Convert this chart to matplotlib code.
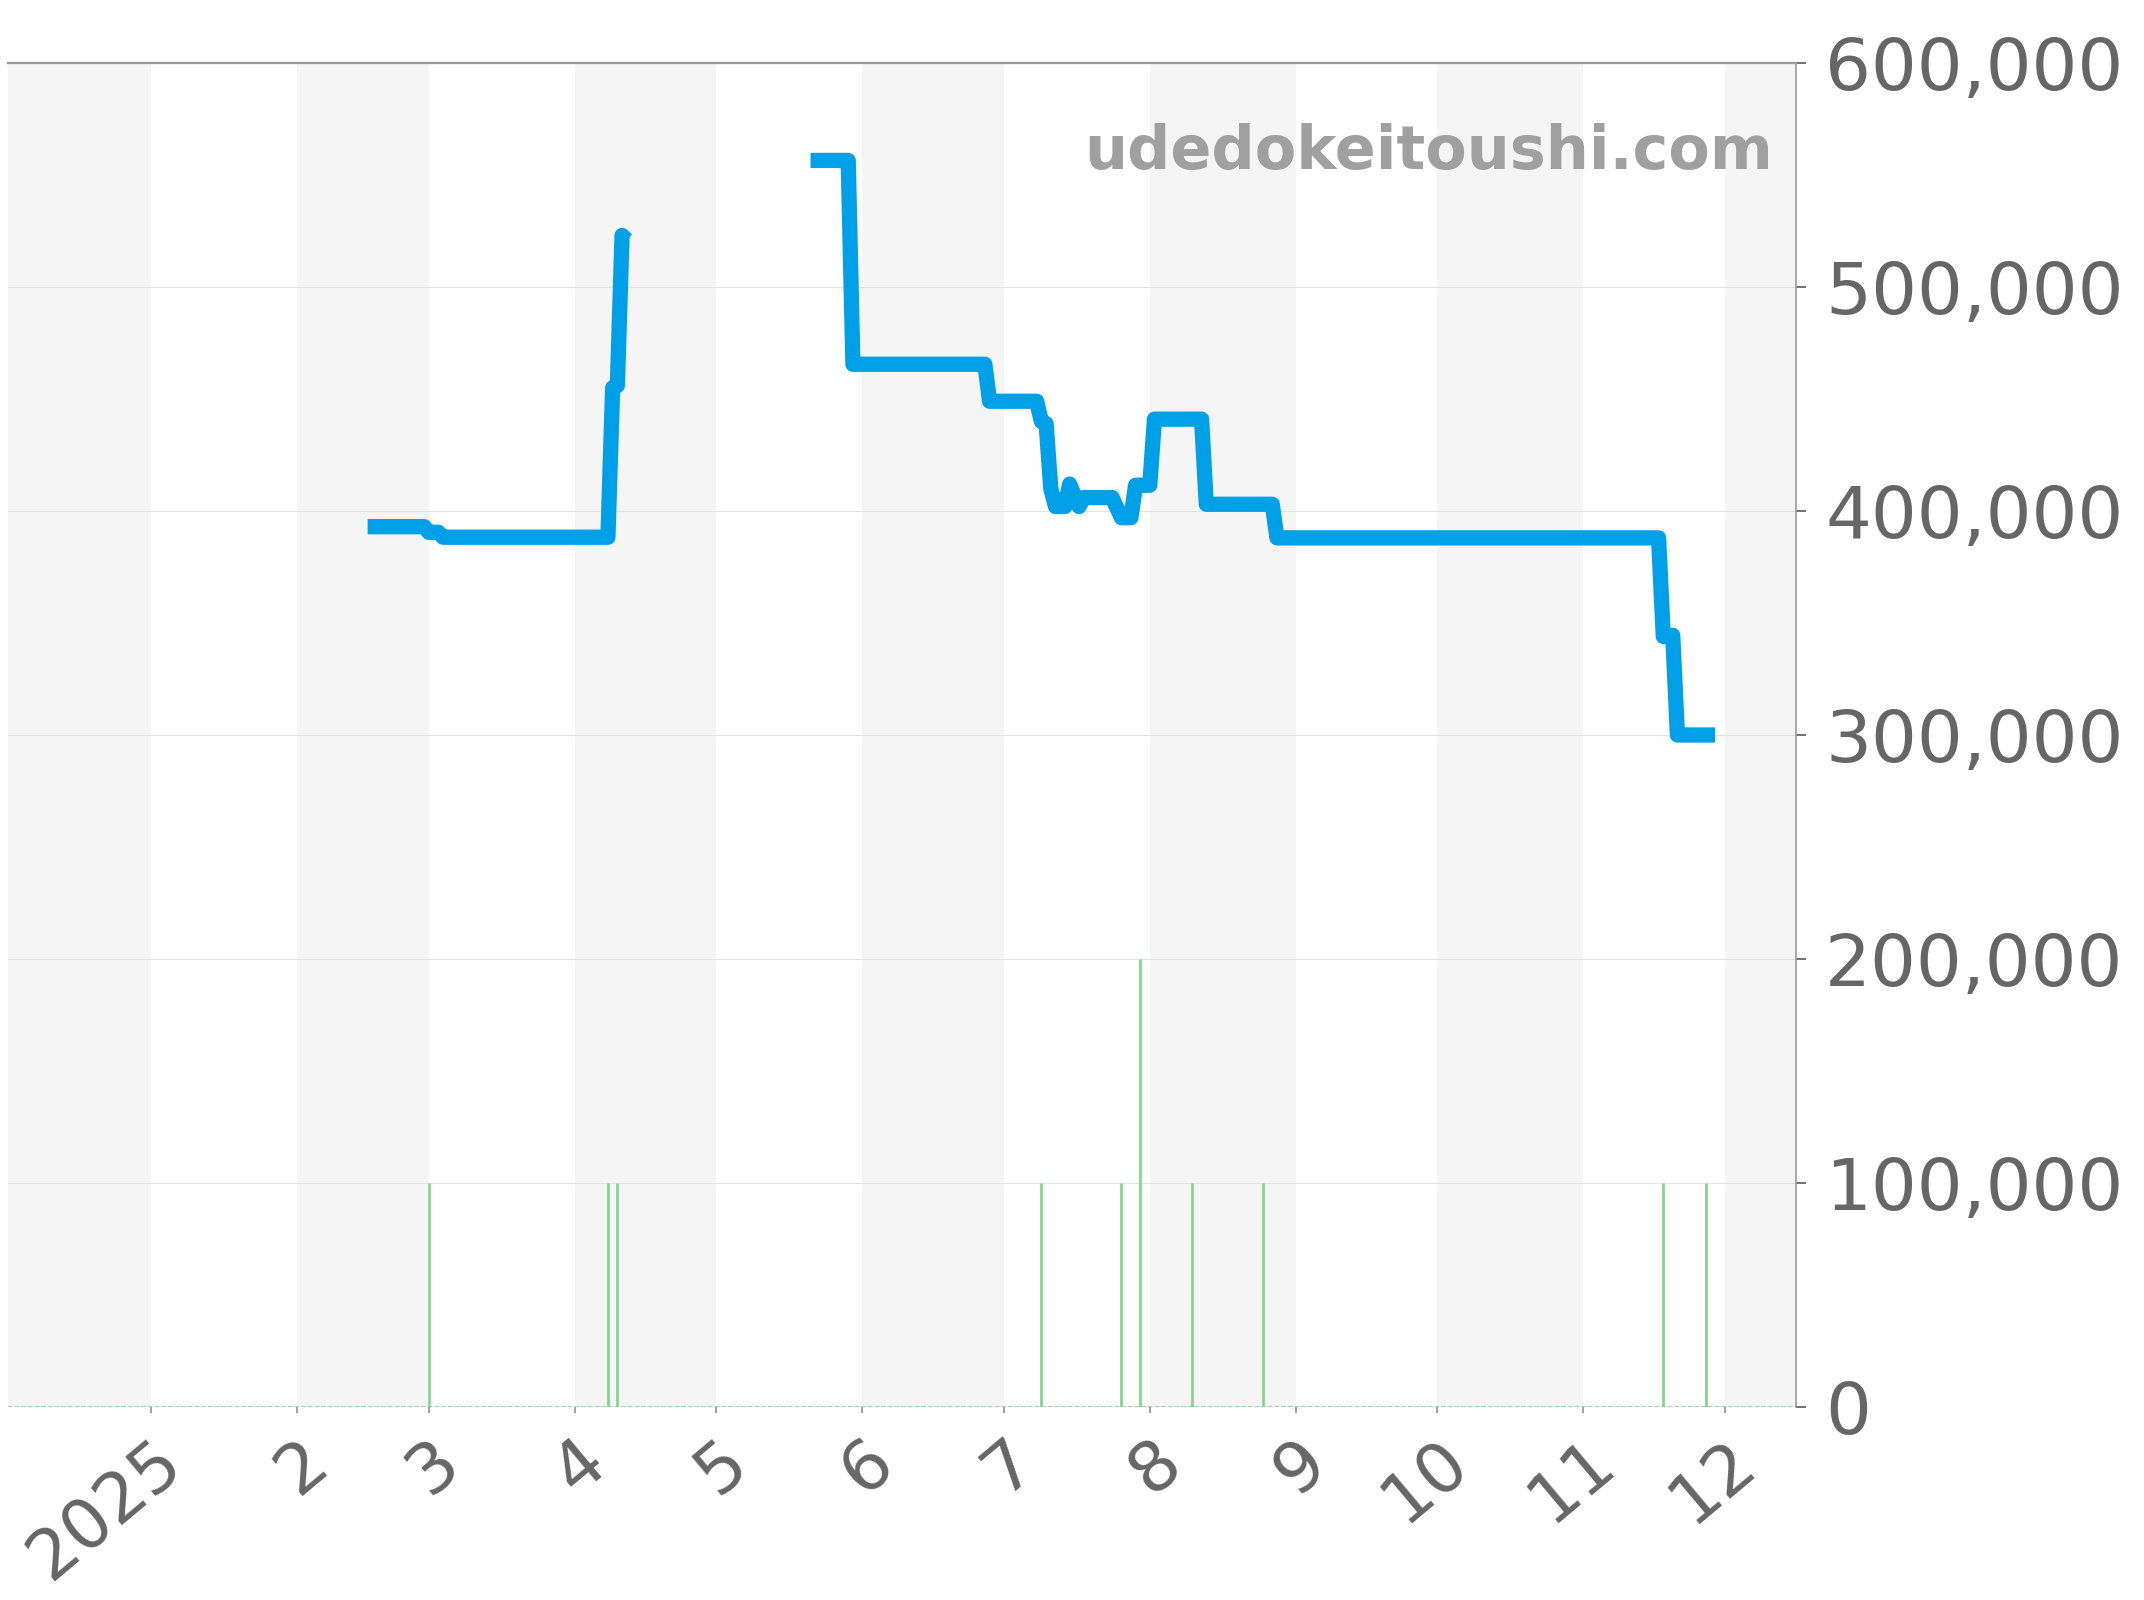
import numpy as np
import pandas as pd
import matplotlib
matplotlib.use('Agg')
import matplotlib.pyplot as plt
import matplotlib.transforms as mtransforms
from matplotlib.ticker import FuncFormatter

# 価格推移（NaN で線を途切れさせる）
price_dates = ['2025-02-16', '2025-02-28', '2025-03-01', '2025-03-03', '2025-03-04',
               '2025-04-08', '2025-04-09', '2025-04-10', '2025-04-11', '2025-04-12',
               '2025-04-13',
               '2025-05-21', '2025-05-29', '2025-05-30', '2025-06-27', '2025-06-28',
               '2025-07-08', '2025-07-09', '2025-07-10', '2025-07-11', '2025-07-12',
               '2025-07-14', '2025-07-15', '2025-07-17', '2025-07-18', '2025-07-24',
               '2025-07-26', '2025-07-28', '2025-07-29', '2025-08-01', '2025-08-02',
               '2025-08-12', '2025-08-13', '2025-08-27', '2025-08-28', '2025-11-17',
               '2025-11-18', '2025-11-20', '2025-11-21', '2025-11-29']
prices = [393000, 393000, 390500, 390500, 388300,
          388300, 455000, 456000, 523000, 521000,
          np.nan,
          556500, 556500, 465500, 465500, 449000,
          449000, 440000, 439000, 410000, 402000,
          402000, 412000, 402000, 406000, 406000,
          397000, 397000, 411500, 411500, 441000,
          441000, 403000, 403000, 388000, 388000,
          344000, 344500, 300000, 300000]

# 出来高っぽい縦線
vol_dates = ['2025-03-01', '2025-04-08', '2025-04-10', '2025-07-09', '2025-07-26',
             '2025-07-30', '2025-08-10', '2025-08-25', '2025-11-18', '2025-11-27']
vol_values = [100000, 100000, 100000, 100000, 100000,
              200000, 100000, 100000, 100000, 100000]

month_starts = ['2025-01-01', '2025-02-01', '2025-03-01', '2025-04-01', '2025-05-01',
                '2025-06-01', '2025-07-01', '2025-08-01', '2025-09-01', '2025-10-01',
                '2025-11-01', '2025-12-01']
month_labels = ['2025', '2', '3', '4', '5', '6', '7', '8', '9', '10', '11', '12']

x_start = pd.Timestamp('2024-12-01 16:00')
x_end = pd.Timestamp('2025-12-16 04:00')

price_x = pd.to_datetime(price_dates)
vol_x = pd.to_datetime(vol_dates)
ticks_x = pd.to_datetime(month_starts)

fig = plt.figure(figsize=(21.44, 16), dpi=100)
ax = fig.add_axes([8 / 2144, 1 - 1407 / 1600, (1796 - 8) / 2144, (1407 - 63) / 1600])

# 月ごとの縞
band_edges = [x_start] + list(ticks_x) + [x_end]
for i in range(len(band_edges) - 1):
    if i % 2 == 0:
        ax.axvspan(band_edges[i], band_edges[i + 1], color='#f5f5f5', lw=0, zorder=0)

ax.axhline(0, color='#9ed8a8', lw=1.6, ls=(0, (2, 1)), zorder=1)
ax.vlines(vol_x, 0, vol_values, color='#86d495', lw=2.0, zorder=2)
ax.plot(price_x, prices, color='#00a0e9', lw=11, solid_joinstyle='round',
        solid_capstyle='butt', zorder=3)

ax.set_xlim(x_start, x_end)
ax.set_ylim(0, 600000)
ax.set_yticks(np.arange(0, 600001, 100000))
ax.yaxis.set_major_formatter(FuncFormatter(lambda v, p: '{:,.0f}'.format(v)))
ax.yaxis.tick_right()
ax.grid(axis='y', color='#e3e3e3', lw=0.8, zorder=0.5)
ax.set_axisbelow(True)

ax.set_xticks(ticks_x)
ax.set_xticklabels(month_labels)

ax.tick_params(axis='y', labelsize=52, colors='#666666', length=7, width=1.3, pad=14,
               labelcolor='#666666')
ax.tick_params(axis='x', labelsize=50, colors='#999999', length=4, width=1.3, pad=29,
               labelcolor='#666666')

# ラベルを少し右へずらす
shift = mtransforms.ScaledTranslation(0.22, 0, fig.dpi_scale_trans)
for lab in ax.get_xticklabels():
    lab.set_rotation(40)
    lab.set_ha('right')
    lab.set_va('center')
    lab.set_rotation_mode('anchor')
    lab.set_transform(lab.get_transform() + shift)

for s in ['left', 'bottom']:
    ax.spines[s].set_visible(False)
ax.spines['top'].set_color('#999999')
ax.spines['top'].set_linewidth(1.6)
ax.spines['right'].set_color('#999999')
ax.spines['right'].set_linewidth(1.2)

ax.text(0.987, 0.921, 'udedokeitoushi.com', transform=ax.transAxes, ha='right',
        va='baseline', fontsize=43.5, fontweight='bold', color='#a0a0a0', zorder=4)

fig.savefig('out.png', dpi=100)
